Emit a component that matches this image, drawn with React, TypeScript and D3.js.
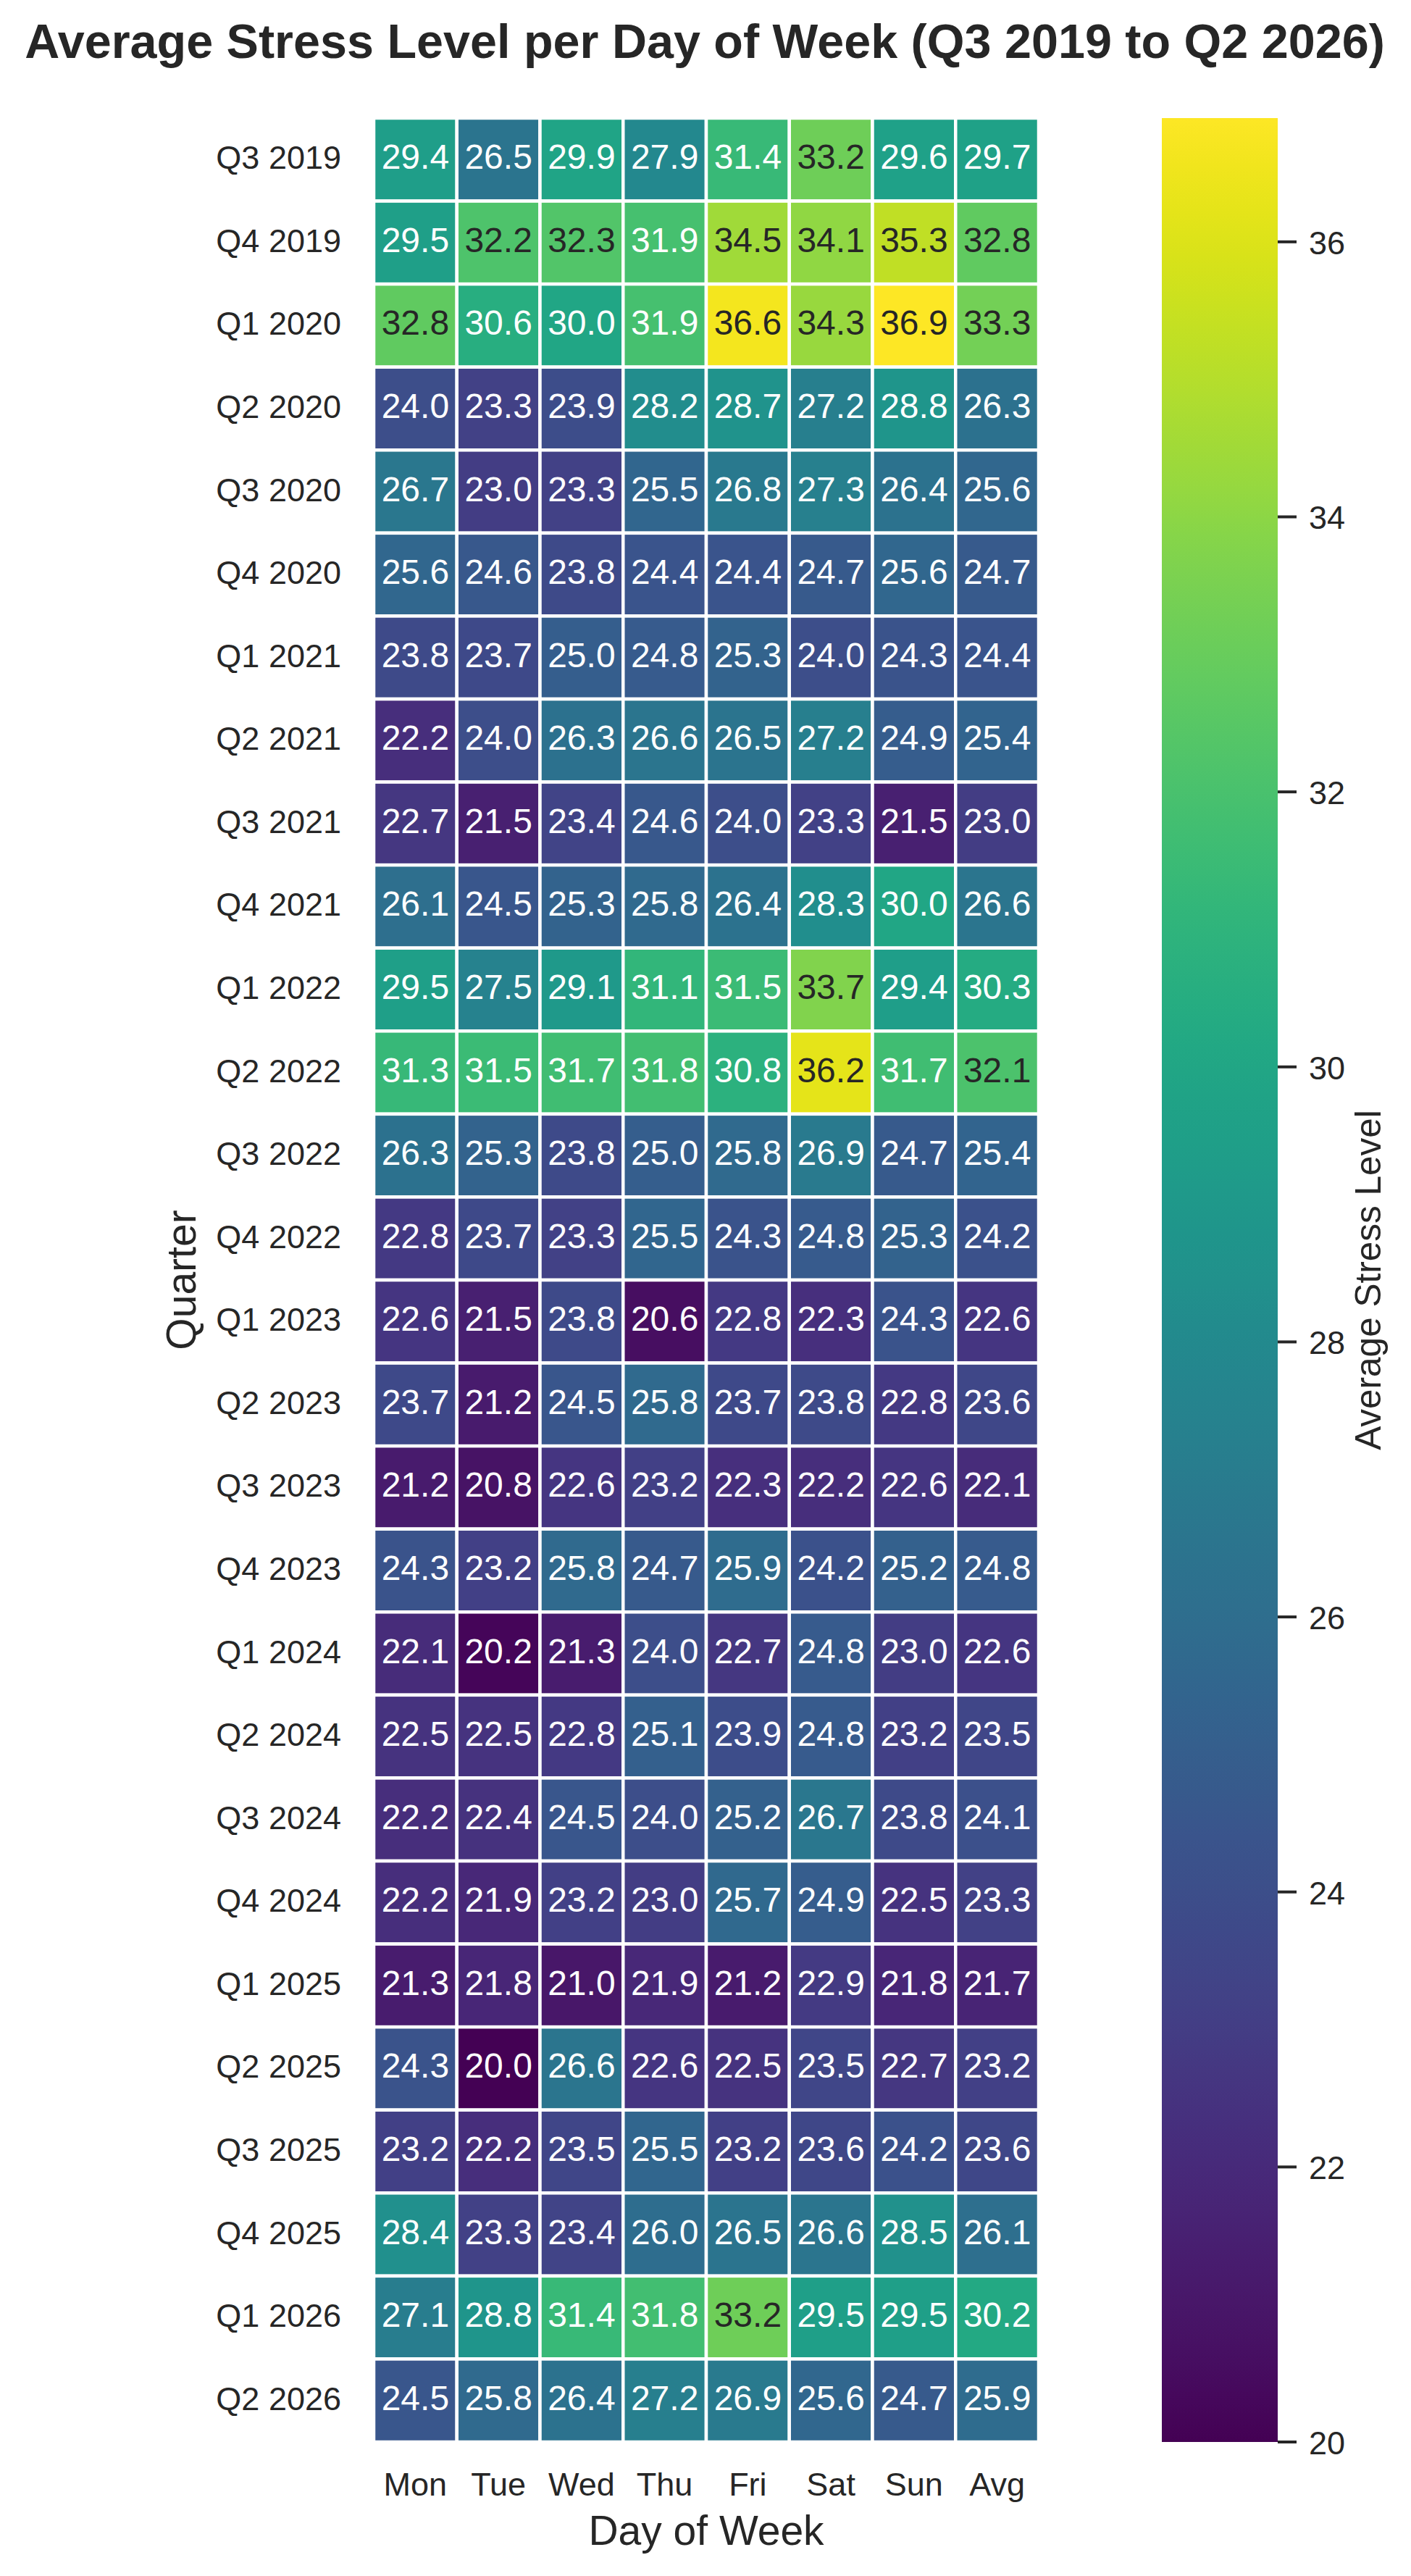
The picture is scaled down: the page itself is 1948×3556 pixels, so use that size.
import React, { useEffect, useRef } from "react";
import * as d3 from "d3";

const days = ["Mon", "Tue", "Wed", "Thu", "Fri", "Sat", "Sun", "Avg"];

const quarters = [
    "Q3 2019", "Q4 2019", "Q1 2020", "Q2 2020", "Q3 2020", "Q4 2020", "Q1 2021",
    "Q2 2021", "Q3 2021", "Q4 2021", "Q1 2022", "Q2 2022", "Q3 2022", "Q4 2022",
    "Q1 2023", "Q2 2023", "Q3 2023", "Q4 2023", "Q1 2024", "Q2 2024", "Q3 2024",
    "Q4 2024", "Q1 2025", "Q2 2025", "Q3 2025", "Q4 2025", "Q1 2026", "Q2 2026",
];

// one row per quarter, columns follow `days`
const stress = [
    [29.4, 26.5, 29.9, 27.9, 31.4, 33.2, 29.6, 29.7],
    [29.5, 32.2, 32.3, 31.9, 34.5, 34.1, 35.3, 32.8],
    [32.8, 30.6, 30.0, 31.9, 36.6, 34.3, 36.9, 33.3],
    [24.0, 23.3, 23.9, 28.2, 28.7, 27.2, 28.8, 26.3],
    [26.7, 23.0, 23.3, 25.5, 26.8, 27.3, 26.4, 25.6],
    [25.6, 24.6, 23.8, 24.4, 24.4, 24.7, 25.6, 24.7],
    [23.8, 23.7, 25.0, 24.8, 25.3, 24.0, 24.3, 24.4],
    [22.2, 24.0, 26.3, 26.6, 26.5, 27.2, 24.9, 25.4],
    [22.7, 21.5, 23.4, 24.6, 24.0, 23.3, 21.5, 23.0],
    [26.1, 24.5, 25.3, 25.8, 26.4, 28.3, 30.0, 26.6],
    [29.5, 27.5, 29.1, 31.1, 31.5, 33.7, 29.4, 30.3],
    [31.3, 31.5, 31.7, 31.8, 30.8, 36.2, 31.7, 32.1],
    [26.3, 25.3, 23.8, 25.0, 25.8, 26.9, 24.7, 25.4],
    [22.8, 23.7, 23.3, 25.5, 24.3, 24.8, 25.3, 24.2],
    [22.6, 21.5, 23.8, 20.6, 22.8, 22.3, 24.3, 22.6],
    [23.7, 21.2, 24.5, 25.8, 23.7, 23.8, 22.8, 23.6],
    [21.2, 20.8, 22.6, 23.2, 22.3, 22.2, 22.6, 22.1],
    [24.3, 23.2, 25.8, 24.7, 25.9, 24.2, 25.2, 24.8],
    [22.1, 20.2, 21.3, 24.0, 22.7, 24.8, 23.0, 22.6],
    [22.5, 22.5, 22.8, 25.1, 23.9, 24.8, 23.2, 23.5],
    [22.2, 22.4, 24.5, 24.0, 25.2, 26.7, 23.8, 24.1],
    [22.2, 21.9, 23.2, 23.0, 25.7, 24.9, 22.5, 23.3],
    [21.3, 21.8, 21.0, 21.9, 21.2, 22.9, 21.8, 21.7],
    [24.3, 20.0, 26.6, 22.6, 22.5, 23.5, 22.7, 23.2],
    [23.2, 22.2, 23.5, 25.5, 23.2, 23.6, 24.2, 23.6],
    [28.4, 23.3, 23.4, 26.0, 26.5, 26.6, 28.5, 26.1],
    [27.1, 28.8, 31.4, 31.8, 33.2, 29.5, 29.5, 30.2],
    [24.5, 25.8, 26.4, 27.2, 26.9, 25.6, 24.7, 25.9],
];

const colorTicks = [20, 22, 24, 26, 28, 30, 32, 34, 36];

const FONT = "'Liberation Sans', Arial, Helvetica, sans-serif";
const INK = "#262626";

// seaborn's rule for picking annotation colour
const luminance = (c) => {
    const rgb = d3.rgb(c);
    const lin = [rgb.r, rgb.g, rgb.b].map((v) => {
        const s = v / 255;
        return s <= 0.03928 ? s / 12.92 : Math.pow((s + 0.055) / 1.055, 2.4);
    });
    return 0.2126 * lin[0] + 0.7152 * lin[1] + 0.0722 * lin[2];
};

const App = () => {
    const svgRef = useRef();

    useEffect(() => {
        const W = 1948;
        const H = 3556;
        const top = 163;
        const bottom = 3371;
        const left = 516;
        const right = 1434;

        const flat = [];
        stress.forEach((row, i) => {
            row.forEach((v, j) => {
                flat.push({ q: quarters[i], d: days[j], v });
            });
        });

        const vmin = d3.min(flat, (d) => d.v);
        const vmax = d3.max(flat, (d) => d.v);

        const x = d3.scaleBand().domain(days).range([left, right]);
        const y = d3.scaleBand().domain(quarters).range([top, bottom]);
        const color = d3.scaleSequential(d3.interpolateViridis).domain([vmin, vmax]);

        const svg = d3.select(svgRef.current).attr("width", W).attr("height", H);
        svg.selectAll("*").remove();

        svg.append("rect").attr("width", W).attr("height", H).attr("fill", "white");

        // Title
        svg.append("text")
            .attr("x", 973)
            .attr("y", 80)
            .attr("text-anchor", "middle")
            .style("font-family", FONT)
            .style("font-weight", "bold")
            .style("font-size", "66.5px")
            .attr("fill", INK)
            .text("Average Stress Level per Day of Week (Q3 2019 to Q2 2026)");

        // Cells
        const cells = svg.append("g");
        cells.selectAll("rect")
            .data(flat)
            .enter()
            .append("rect")
            .attr("x", (d) => x(d.d))
            .attr("y", (d) => y(d.q))
            .attr("width", x.bandwidth())
            .attr("height", y.bandwidth())
            .attr("fill", (d) => color(d.v))
            .attr("stroke", "white")
            .attr("stroke-width", 4.5);

        cells.selectAll("text")
            .data(flat)
            .enter()
            .append("text")
            .attr("x", (d) => x(d.d) + x.bandwidth() / 2)
            .attr("y", (d) => y(d.q) + y.bandwidth() / 2 + 13)
            .attr("text-anchor", "middle")
            .style("font-family", FONT)
            .style("font-size", "48px")
            .attr("fill", (d) => (luminance(color(d.v)) > 0.408 ? INK : "white"))
            .text((d) => d.v.toFixed(1));

        // Y tick labels
        svg.append("g")
            .selectAll("text")
            .data(quarters)
            .enter()
            .append("text")
            .attr("x", 471)
            .attr("y", (d) => y(d) + y.bandwidth() / 2 + 13)
            .attr("text-anchor", "end")
            .style("font-family", FONT)
            .style("font-size", "45px")
            .attr("fill", INK)
            .text((d) => d);

        // X tick labels
        svg.append("g")
            .selectAll("text")
            .data(days)
            .enter()
            .append("text")
            .attr("x", (d) => x(d) + x.bandwidth() / 2)
            .attr("y", 3445)
            .attr("text-anchor", "middle")
            .style("font-family", FONT)
            .style("font-size", "45px")
            .attr("fill", INK)
            .text((d) => d);

        // Axis labels
        svg.append("text")
            .attr("x", (left + right) / 2)
            .attr("y", 3513)
            .attr("text-anchor", "middle")
            .style("font-family", FONT)
            .style("font-size", "57px")
            .attr("fill", INK)
            .text("Day of Week");

        svg.append("text")
            .attr("transform", `translate(270,${(top + bottom) / 2}) rotate(-90)`)
            .attr("text-anchor", "middle")
            .style("font-family", FONT)
            .style("font-size", "57px")
            .attr("fill", INK)
            .text("Quarter");

        // Colorbar
        const cbLeft = 1604;
        const cbRight = 1764;
        const cy = d3.scaleLinear().domain([vmin, vmax]).range([bottom, top]);

        const grad = svg.append("defs")
            .append("linearGradient")
            .attr("id", "cbar")
            .attr("x1", 0).attr("y1", 1).attr("x2", 0).attr("y2", 0);
        d3.range(0, 1.0001, 0.02).forEach((t) => {
            grad.append("stop")
                .attr("offset", t)
                .attr("stop-color", d3.interpolateViridis(t));
        });

        svg.append("rect")
            .attr("x", cbLeft)
            .attr("y", top)
            .attr("width", cbRight - cbLeft)
            .attr("height", bottom - top)
            .attr("fill", "url(#cbar)");

        const ticks = svg.append("g");
        colorTicks.forEach((t) => {
            ticks.append("line")
                .attr("x1", cbRight)
                .attr("x2", cbRight + 26)
                .attr("y1", cy(t))
                .attr("y2", cy(t))
                .attr("stroke", INK)
                .attr("stroke-width", 4);
            ticks.append("text")
                .attr("x", 1807)
                .attr("y", cy(t) + 17)
                .style("font-family", FONT)
                .style("font-size", "45px")
                .attr("fill", INK)
                .text(t);
        });

        svg.append("text")
            .attr("transform", `translate(1906,${(top + bottom) / 2}) rotate(-90)`)
            .attr("text-anchor", "middle")
            .style("font-family", FONT)
            .style("font-size", "49.5px")
            .attr("fill", INK)
            .text("Average Stress Level");
    }, []);

    return (
        <div style={{ position: "absolute", left: 0, top: 0 }}>
            <svg ref={svgRef} style={{ display: "block" }}></svg>
        </div>
    );
};

export default App;
